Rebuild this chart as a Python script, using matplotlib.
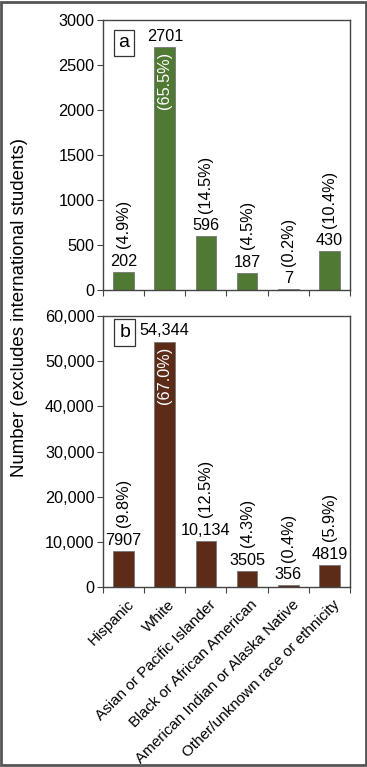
import numpy as np
import matplotlib
matplotlib.use("Agg")
import matplotlib.pyplot as plt
from matplotlib.patches import Rectangle

plt.rcParams['font.family'] = ['Liberation Sans', 'DejaVu Sans']

categories = ["Hispanic", "White", "Asian or Pacific Islander",
              "Black or African American", "American Indian or Alaska Native",
              "Other/unknown race or ethnicity"]
counts_a = [202, 2701, 596, 187, 7, 430]
pct_a = ["(4.9%)", "(65.5%)", "(14.5%)", "(4.5%)", "(0.2%)", "(10.4%)"]
counts_b = [7907, 54344, 10134, 3505, 356, 4819]
pct_b = ["(9.8%)", "(67.0%)", "(12.5%)", "(4.3%)", "(0.4%)", "(5.9%)"]

W, H = 367, 767
fig = plt.figure(figsize=(W / 100, H / 100), dpi=100)
fig.patches.append(Rectangle((0.003, 0.002), 0.994, 0.996, transform=fig.transFigure,
                             fill=False, edgecolor='#555555', linewidth=2))

def ax_rect(l, t, r, b):
    return [l / W, 1 - b / H, (r - l) / W, (b - t) / H]

ax1 = fig.add_axes(ax_rect(103, 20, 350, 290))
ax2 = fig.add_axes(ax_rect(103, 316, 350, 587))

x = np.arange(len(categories))
fs = 11.7

def draw(ax, counts, pcts, color, ymax, step, fmt, letter, box_xy):
    ax.bar(x, counts, width=0.5, color=color, edgecolor='#777777', linewidth=0.6)
    ax.set_xlim(-0.5, len(categories) - 0.5)
    ax.set_ylim(0, ymax)
    ax.set_yticks(np.arange(0, ymax + 1, step))
    ax.set_yticklabels([fmt(v) for v in np.arange(0, ymax + 1, step)], fontsize=fs)
    ax.set_xticks(np.arange(-0.5, len(categories), 1.0))
    ax.set_xticklabels([])
    ax.tick_params(axis='x', direction='out', length=4, color='#444444')
    ax.tick_params(axis='y', direction='out', length=4, color='#444444', pad=2)
    for s in ax.spines.values():
        s.set_color('#444444')
        s.set_linewidth(1.0)
    for i, (c, p) in enumerate(zip(counts, pcts)):
        ax.text(i, c + ymax * 0.012, fmt(c), ha='center', va='bottom', fontsize=fs)
        if i == 1:
            ax.text(i, c - ymax * 0.02, p, ha='center', va='top', rotation=90,
                    color='white', fontsize=fs)
        else:
            ax.text(i, c + ymax * 0.088, p, ha='center', va='bottom', rotation=90,
                    fontsize=fs)
    ax.text(box_xy[0], box_xy[1], letter, transform=ax.transAxes, ha='center',
            va='center', fontsize=14,
            bbox=dict(boxstyle='square,pad=0.25', facecolor='white',
                      edgecolor='#333333', linewidth=0.9))

draw(ax1, counts_a, pct_a, '#507a33', 3000, 500, lambda v: f"{int(v)}", "a",
     (0.085, 0.915))
fmt_b = lambda v: f"{int(v):,}" if v >= 10000 else f"{int(v)}"
draw(ax2, counts_b, pct_b, '#5c2c19', 60000, 10000, fmt_b, "b", (0.088, 0.94))

for i, lab in enumerate(categories):
    ax2.text(i + 0.08, -2300, lab, rotation=45, ha='right', va='top',
             rotation_mode='anchor', fontsize=11)

fig.text(20 / W, 1 - 308 / H, "Number (excludes international students)",
         rotation=90, ha='center', va='center', fontsize=13.4)

fig.savefig("out.png", dpi=100)
